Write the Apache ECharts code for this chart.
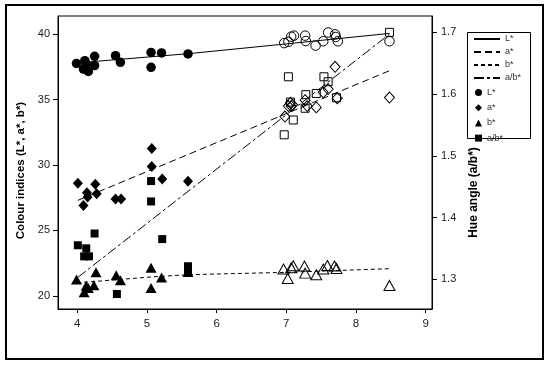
<!DOCTYPE html>
<html><head><meta charset="utf-8">
<script src="https://cdn.jsdelivr.net/npm/echarts@6/dist/echarts.min.js"></script>
<style>html,body{margin:0;padding:0;background:#fff}#c{width:550px;height:366px}</style>
</head><body><div id="c"></div>
<script>
// tick values
const xTicks = [4, 5, 6, 7, 8, 9];
const leftTicks = [20, 25, 30, 35, 40];
const rightTicks = [1.3, 1.4, 1.5, 1.6, 1.7];

// L* (filled: low x, open: high x)
const LfX = [3.99, 4.09, 4.11, 4.13, 4.16, 4.25, 4.25, 4.55, 4.62, 5.06, 5.06, 5.21, 5.59];
const LfY = [37.76, 37.33, 37.97, 37.72, 37.15, 37.59, 38.3, 38.35, 37.84, 38.6, 37.46, 38.56, 38.48];
const LoX = [6.97, 7.03, 7.07, 7.11, 7.27, 7.28, 7.42, 7.53, 7.6, 7.7, 7.71, 7.74, 8.48];
const LoY = [39.31, 39.41, 39.8, 39.88, 39.88, 39.47, 39.12, 39.45, 40.12, 39.98, 39.78, 39.45, 39.45];

// a*
const AfX = [4.01, 4.09, 4.14, 4.15, 4.26, 4.28, 4.55, 4.63, 5.07, 5.07, 5.22, 5.59];
const AfY = [28.6, 26.9, 27.87, 27.56, 28.53, 27.8, 27.4, 27.4, 31.26, 29.88, 28.93, 28.75];
const AoX = [6.98, 7.03, 7.06, 7.07, 7.09, 7.27, 7.3, 7.43, 7.53, 7.6, 7.7, 7.73, 8.48];
const AoY = [33.7, 34.5, 34.75, 34.5, 34.6, 34.95, 34.5, 34.4, 35.55, 35.8, 37.5, 35.1, 35.15];

// b*
const BfX = [3.99, 4.1, 4.13, 4.16, 4.24, 4.27, 4.56, 4.62, 5.06, 5.06, 5.21, 5.59];
const BfY = [21.26, 20.27, 20.78, 20.6, 20.82, 21.8, 21.58, 21.2, 22.15, 20.6, 21.4, 21.83];
const BoX = [6.96, 7.02, 7.07, 7.1, 7.26, 7.27, 7.43, 7.53, 7.59, 7.69, 7.72, 8.48];
const BoY = [22.05, 21.33, 22.15, 22.3, 22.28, 21.74, 21.62, 22.05, 22.32, 22.28, 22.1, 20.8];

// a/b* (right axis)
const SfX = [4.01, 4.1, 4.13, 4.17, 4.25, 4.57, 5.06, 5.06, 5.22, 5.59, 5.59];
const SfY = [1.355, 1.337, 1.35, 1.337, 1.374, 1.276, 1.459, 1.426, 1.365, 1.321, 1.314];
const SoX = [6.97, 7.03, 7.06, 7.1, 7.27, 7.28, 7.43, 7.54, 7.6, 7.72, 8.48];
const SoY = [1.534, 1.628, 1.587, 1.558, 1.577, 1.599, 1.601, 1.628, 1.62, 1.594, 1.70];

// fitted lines
const LfitX = [4.0, 5.59, 7.0, 8.48];
const LfitY = [37.8, 38.5, 39.25, 40.05];
const AfitX = [4.01, 8.48];
const AfitY = [27.3, 37.2];
const BfitX = [4.0, 5.07, 5.59, 7.0, 8.48];
const BfitY = [21.0, 21.45, 21.62, 21.8, 22.08];
const SfitX = [4.01, 8.48];
const SfitY = [1.303, 1.697];

const zip = (xs, ys) => xs.map((x, i) => [x, ys[i]]);
const FONT = "Arial, 'Liberation Sans', sans-serif";
const chart = echarts.init(document.getElementById('c'), null, {renderer: 'canvas'});

function lineS(name, xs, ys, type, yIdx) {
  return {type: 'line', name, data: zip(xs, ys), yAxisIndex: yIdx, symbol: 'none', showSymbol: false,
    lineStyle: {color: '#000', width: 1, type, opacity: 1}, itemStyle: {color: '#000', opacity: 0}, silent: true, z: 2};
}
function filledS(name, xs, ys, symbol, size, yIdx) {
  return {type: 'scatter', name, data: zip(xs, ys), yAxisIndex: yIdx, symbol, symbolSize: size,
    itemStyle: {color: '#000', opacity: 1}, z: 3};
}
function openS(name, xs, ys, symbol, size, yIdx) {
  return {type: 'scatter', name, data: zip(xs, ys), yAxisIndex: yIdx, symbol, symbolSize: size,
    itemStyle: {color: 'rgba(255,255,255,0)', borderColor: '#000', borderWidth: 1, opacity: 1}, z: 3};
}

const axisCommon = {
  axisLine: {show: true, lineStyle: {color: '#000', width: 1}},
  splitLine: {show: false},
};

chart.setOption({
  animation: false,
  backgroundColor: '#fff',
  textStyle: {fontFamily: FONT},
  grid: {left: 58, right: 118, top: 16, bottom: 57, show: true, borderColor: '#000', borderWidth: 1, backgroundColor: 'transparent'},
  xAxis: Object.assign({
    type: 'value', min: 3.725, max: 9.09,
    axisTick: {show: true, length: 4, customValues: xTicks, lineStyle: {color: '#000'}},
    axisLabel: {customValues: xTicks, margin: 9, fontSize: 11.5, color: '#222', fontFamily: FONT},
  }, axisCommon),
  yAxis: [
    Object.assign({
      type: 'value', min: 19, max: 41.38, position: 'left',
      axisTick: {show: true, length: 5, customValues: leftTicks, lineStyle: {color: '#000'}},
      axisLabel: {customValues: leftTicks, margin: 8, fontSize: 11, color: '#222', fontFamily: FONT},
      name: 'Colour indices (L*, a*, b*)', nameLocation: 'middle', nameGap: 31, nameRotate: 90,
      nameTextStyle: {fontWeight: 'bold', fontSize: 11.5, color: '#000', fontFamily: FONT, padding: [0, 16, 0, 0]},
    }, axisCommon),
    Object.assign({
      type: 'value', min: 1.2517, max: 1.7265, position: 'right',
      axisTick: {show: true, length: 5, customValues: rightTicks, lineStyle: {color: '#000'}},
      axisLabel: {customValues: rightTicks, margin: 9, fontSize: 11, color: '#222', fontFamily: FONT,
        formatter: v => v.toFixed(1)},
      name: 'Hue angle (a/b*)', nameLocation: 'middle', nameGap: 35, nameRotate: 90,
      nameTextStyle: {fontWeight: 'bold', fontSize: 12, color: '#000', fontFamily: FONT, padding: [0, 60, 0, 0]},
    }, axisCommon),
  ],
  legend: [
    {
      orient: 'vertical', left: 473, top: 34.5, padding: 0, itemGap: 4, itemWidth: 26, itemHeight: 9,
      selectedMode: false,
      itemStyle: {opacity: 0, borderWidth: 0},
      textStyle: {fontSize: 9, color: '#333', fontFamily: FONT, lineHeight: 9},
      data: ['L*', 'a*', 'b*', 'a/b*'],
    },
    {
      orient: 'vertical', left: 475, top: 88, padding: 0, itemGap: 6.2, itemWidth: 7, itemHeight: 7,
      selectedMode: false,
      itemStyle: {color: '#000', opacity: 1},
      textStyle: {fontSize: 9, color: '#333', fontFamily: FONT, lineHeight: 9},
      formatter: n => n.replace('pt', ''),
      data: [{name: 'L*pt', icon: 'circle'}, {name: 'a*pt', icon: 'diamond'},
             {name: 'b*pt', icon: 'triangle'}, {name: 'a/b*pt', icon: 'rect'}],
    },
  ],
  graphic: [
    {type: 'rect', silent: true, shape: {x: 6, y: 5, width: 537, height: 354}, style: {fill: 'none', stroke: '#000', lineWidth: 2}},
    {type: 'rect', silent: true, shape: {x: 467.5, y: 32.5, width: 63, height: 106}, style: {fill: 'none', stroke: '#000', lineWidth: 1}},
  ],
  series: [
    lineS('L*', LfitX, LfitY, 'solid', 0),
    lineS('a*', AfitX, AfitY, [7, 4], 0),
    lineS('b*', BfitX, BfitY, [4, 3], 0),
    lineS('a/b*', SfitX, SfitY, [10, 3, 3, 3], 1),
    filledS('L*pt', LfX, LfY, 'circle', 9.5, 0),
    filledS('a*pt', AfX, AfY, 'diamond', [10, 11], 0),
    filledS('b*pt', BfX, BfY, 'triangle', [11, 10], 0),
    filledS('a/b*pt', SfX, SfY, 'rect', 8, 1),
    openS('L*open', LoX, LoY, 'circle', 9.5, 0),
    openS('a*open', AoX, AoY, 'diamond', [10, 11], 0),
    openS('b*open', BoX, BoY, 'triangle', [11, 10], 0),
    openS('a/b*open', SoX, SoY, 'rect', 8, 1),
  ],
});
</script>
</body></html>
